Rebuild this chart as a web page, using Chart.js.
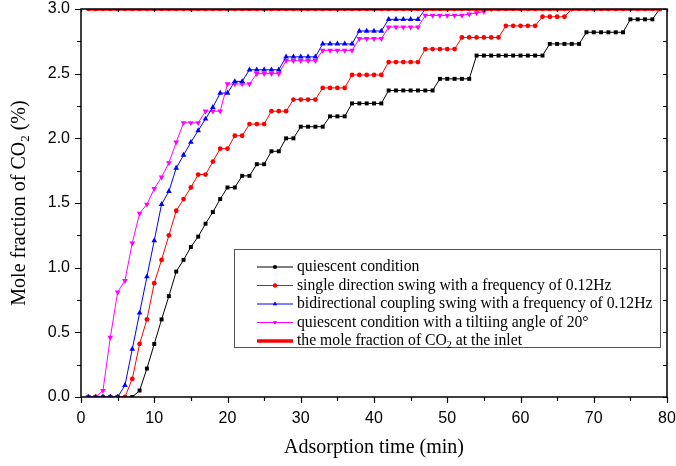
<!DOCTYPE html>
<html>
<head>
<meta charset="utf-8">
<script src="https://cdn.jsdelivr.net/npm/chart.js@4.4.0/dist/chart.umd.min.js"></script>
<style>
  html, body { margin: 0; padding: 0; background: #fff; }
  #wrap { width: 676px; height: 466px; }
</style>
</head>
<body>
<div id="wrap"><canvas id="co2Chart" width="676" height="466"></canvas></div>
<script>
// Adsorption time (min), one reading per minute
var minutes = [1,2,3,4,5,6,7,8,9,10,11,12,13,14,15,16,17,18,19,20,
  21,22,23,24,25,26,27,28,29,30,31,32,33,34,35,36,37,38,39,40,
  41,42,43,44,45,46,47,48,49,50,51,52,53,54,55,56,57,58,59,60,
  61,62,63,64,65,66,67,68,69,70,71,72,73,74,75,76,77,78,79];

// Outlet CO2 mole fraction (%) for each run
var quiescent = [0,0,0,0,0,0,0,0.05,0.22,0.41,
  0.60,0.78,0.97,1.06,1.16,1.24,1.34,1.43,1.53,1.62,
  1.62,1.71,1.71,1.80,1.80,1.90,1.90,2.00,2.00,2.09,
  2.09,2.09,2.09,2.17,2.17,2.17,2.27,2.27,2.27,2.27,
  2.27,2.37,2.37,2.37,2.37,2.37,2.37,2.37,2.46,2.46,
  2.46,2.46,2.46,2.64,2.64,2.64,2.64,2.64,2.64,2.64,
  2.64,2.64,2.64,2.73,2.73,2.73,2.73,2.73,2.82,2.82,
  2.82,2.82,2.82,2.82,2.92,2.92,2.92,2.92,3.00];

var singleSwing = [0,0,0,0,0,0,0.14,0.41,0.60,0.88,
  1.06,1.25,1.44,1.53,1.62,1.72,1.72,1.82,1.92,1.92,
  2.02,2.02,2.11,2.11,2.11,2.21,2.21,2.21,2.30,2.30,
  2.30,2.30,2.39,2.39,2.39,2.39,2.49,2.49,2.49,2.49,
  2.49,2.59,2.59,2.59,2.59,2.59,2.69,2.69,2.69,2.69,
  2.69,2.78,2.78,2.78,2.78,2.78,2.78,2.87,2.87,2.87,
  2.87,2.87,2.94,2.94,2.94,2.94,3.00];

var coupledSwing = [0,0,0,0,0,0.09,0.37,0.65,0.93,1.21,
  1.49,1.59,1.77,1.87,1.97,2.06,2.15,2.24,2.35,2.35,
  2.44,2.44,2.53,2.53,2.53,2.53,2.53,2.63,2.63,2.63,
  2.63,2.63,2.73,2.73,2.73,2.73,2.73,2.83,2.83,2.83,
  2.83,2.92,2.92,2.92,2.92,2.92,3.00];

var tilted = [0,0,0.05,0.46,0.81,0.90,1.19,1.42,1.49,1.61,
  1.70,1.81,1.97,2.12,2.12,2.12,2.21,2.21,2.21,2.42,
  2.42,2.42,2.42,2.50,2.50,2.50,2.50,2.60,2.60,2.60,
  2.60,2.60,2.68,2.68,2.68,2.68,2.68,2.77,2.77,2.77,
  2.77,2.86,2.86,2.86,2.86,2.86,2.95,2.95,2.95,2.95,
  2.95,2.95,2.96,2.97,2.98,3.00];

var inlet = [3,3,3,3,3,3,3,3,3,3,3,3,3,3,3,3,3,3,3,3,
  3,3,3,3,3,3,3,3,3,3,3,3,3,3,3,3,3,3,3,3,
  3,3,3,3,3,3,3,3,3,3,3,3,3,3,3,3,3,3,3,3,
  3,3,3,3,3,3,3,3,3,3,3,3,3,3,3,3,3,3,3];

var xTicks = [0,10,20,30,40,50,60,70,80];
var yTicks = [0,0.5,1.0,1.5,2.0,2.5,3.0];

// pair each value with its minute
function toPoints(values) {
  return values.map(function(v, i) { return {x: minutes[i], y: v}; });
}

var serif = "'Liberation Serif', 'Times New Roman', serif";
var sans = "'Liberation Sans', Arial, sans-serif";

// Legend rows: text pieces, [text, isSubscript]
var legendRows = [
  [['quiescent condition', false]],
  [['single direction swing with a frequency of 0.12Hz', false]],
  [['bidirectional coupling swing with a frequency of 0.12Hz', false]],
  [['quiescent condition with a tiltiing angle of 20\u00b0', false]],
  [['the mole fraction of CO', false], ['2', true], [' at the inlet', false]]
];

// draws a run of text with subscripts, returns the width used
function drawRich(ctx, parts, x, y, size, measureOnly) {
  var cx = x;
  parts.forEach(function(p) {
    var fs = p[1] ? Math.round(size * 0.65) : size;
    ctx.font = fs + 'px ' + serif;
    if (!measureOnly) ctx.fillText(p[0], cx, p[1] ? y + size * 0.28 : y);
    cx += ctx.measureText(p[0]).width;
  });
  return cx - x;
}

var frameAndLegend = {
  id: 'frameAndLegend',
  afterDatasetsDraw: function(chart) {
    var ctx = chart.ctx;
    var a = chart.chartArea;
    var xs = chart.scales.x, ys = chart.scales.y;
    ctx.save();
    ctx.strokeStyle = '#000';
    ctx.lineWidth = 1.5;
    ctx.strokeRect(a.left, a.top, a.right - a.left, a.bottom - a.top);

    // tick marks: bottom/left outward, top/right inward
    ctx.lineWidth = 1.2;
    ctx.beginPath();
    for (var t = 0; t <= 80; t += 5) {
      var px = Math.round(xs.getPixelForValue(t)) + 0.5;
      var len = (t % 10 === 0) ? 6 : 4;
      ctx.moveTo(px, a.bottom); ctx.lineTo(px, a.bottom + len);
      ctx.moveTo(px, a.top); ctx.lineTo(px, a.top + 3);
    }
    for (var v = 0; v <= 3.0001; v += 0.25) {
      var py = Math.round(ys.getPixelForValue(v)) + 0.5;
      var l2 = (Math.abs(v * 2 - Math.round(v * 2)) < 0.01) ? 6 : 4;
      ctx.moveTo(a.left, py); ctx.lineTo(a.left - l2, py);
      ctx.moveTo(a.right, py); ctx.lineTo(a.right - 4, py);
    }
    ctx.stroke();

    // legend box
    ctx.strokeStyle = '#555';
    ctx.lineWidth = 1;
    ctx.strokeRect(234.5, 249.5, 426, 98);
    ctx.textBaseline = 'middle';
    ctx.fillStyle = '#000';
    var rowY = [267, 285.5, 304, 322.5, 341];
    chart.data.datasets.forEach(function(ds, k) {
      var y = rowY[k];
      ctx.strokeStyle = ds.borderColor;
      ctx.lineWidth = ds.borderWidth;
      ctx.beginPath();
      ctx.moveTo(257, y); ctx.lineTo(293, y);
      ctx.stroke();
      if (k < 4) {
        ctx.fillStyle = ds.backgroundColor;
        ctx.strokeStyle = ds.borderColor;
        Chart.helpers.drawPoint(ctx, {
          pointStyle: ds.pointStyle, radius: 1.8,
          rotation: ds.pointRotation || 0, borderWidth: 1
        }, 275, y);
      }
      ctx.fillStyle = '#000';
      drawRich(ctx, legendRows[k], 297, y, 15.7, false);
    });

    // y axis title with subscript
    var title = [['Mole fraction of CO', false], ['2', true], [' (%)', false]];
    var w = drawRich(ctx, title, 0, 0, 20, true);
    ctx.translate(20, (a.top + a.bottom) / 2);
    ctx.rotate(-Math.PI / 2);
    ctx.textBaseline = 'middle';
    drawRich(ctx, title, -w / 2, 0, 20, false);
    ctx.restore();
  }
};

var ctx = document.getElementById('co2Chart').getContext('2d');
var chart = new Chart(ctx, {
  type: 'line',
  data: {
    datasets: [
      { label: 'quiescent condition', data: toPoints(quiescent), order: 4,
        borderColor: '#000000', backgroundColor: '#000000', borderWidth: 1,
        pointStyle: 'rect', pointRadius: 2.8, pointBorderWidth: 0 },
      { label: 'single direction swing with a frequency of 0.12Hz', data: toPoints(singleSwing), order: 3,
        borderColor: '#ff0000', backgroundColor: '#ff0000', borderWidth: 1,
        pointStyle: 'circle', pointRadius: 2.4, pointBorderWidth: 0 },
      { label: 'bidirectional coupling swing with a frequency of 0.12Hz', data: toPoints(coupledSwing), order: 1,
        borderColor: '#0000ff', backgroundColor: '#0000ff', borderWidth: 1,
        pointStyle: 'triangle', pointRadius: 3.3, pointBorderWidth: 0 },
      { label: 'quiescent condition with a tiltiing angle of 20\u00b0', data: toPoints(tilted), order: 2,
        borderColor: '#ff00ff', backgroundColor: '#ff00ff', borderWidth: 1,
        pointStyle: 'triangle', pointRotation: 180, pointRadius: 3.3, pointBorderWidth: 0 },
      { label: 'the mole fraction of CO2 at the inlet', data: toPoints(inlet), order: 0,
        borderColor: '#ff0000', backgroundColor: '#ff0000', borderWidth: 3.5,
        pointStyle: 'circle', pointRadius: 2.2, pointBorderWidth: 0 }
    ]
  },
  options: {
    responsive: false,
    animation: false,
    devicePixelRatio: 1,
    layout: { padding: 0 },
    plugins: { legend: { display: false }, tooltip: { enabled: false } },
    elements: { line: { tension: 0 } },
    scales: {
      x: {
        type: 'linear', min: 0, max: 80,
        afterBuildTicks: function(s) { s.ticks = xTicks.map(function(v) { return {value: v}; }); },
        afterFit: function(s) { s.height = 69; s.paddingLeft = 0; s.paddingRight = 9; },
        grid: { display: false, drawTicks: false, tickLength: 0 },
        border: { display: false },
        ticks: { color: '#000', padding: 12, maxRotation: 0, font: { family: sans, size: 16 } },
        title: { display: true, text: 'Adsorption time (min)', color: '#000',
          font: { family: serif, size: 20 }, padding: { top: 0, bottom: 6 } }
      },
      y: {
        type: 'linear', min: 0, max: 3.0,
        afterBuildTicks: function(s) { s.ticks = yTicks.map(function(v) { return {value: v}; }); },
        afterFit: function(s) { s.width = 81; s.paddingTop = 9; s.paddingBottom = 0; },
        grid: { display: false, drawTicks: false, tickLength: 0 },
        border: { display: false },
        ticks: { color: '#000', padding: 11, font: { family: sans, size: 16 },
          callback: function(v) { return v.toFixed(1); } }
      }
    }
  },
  plugins: [frameAndLegend]
});
</script>
</body>
</html>
